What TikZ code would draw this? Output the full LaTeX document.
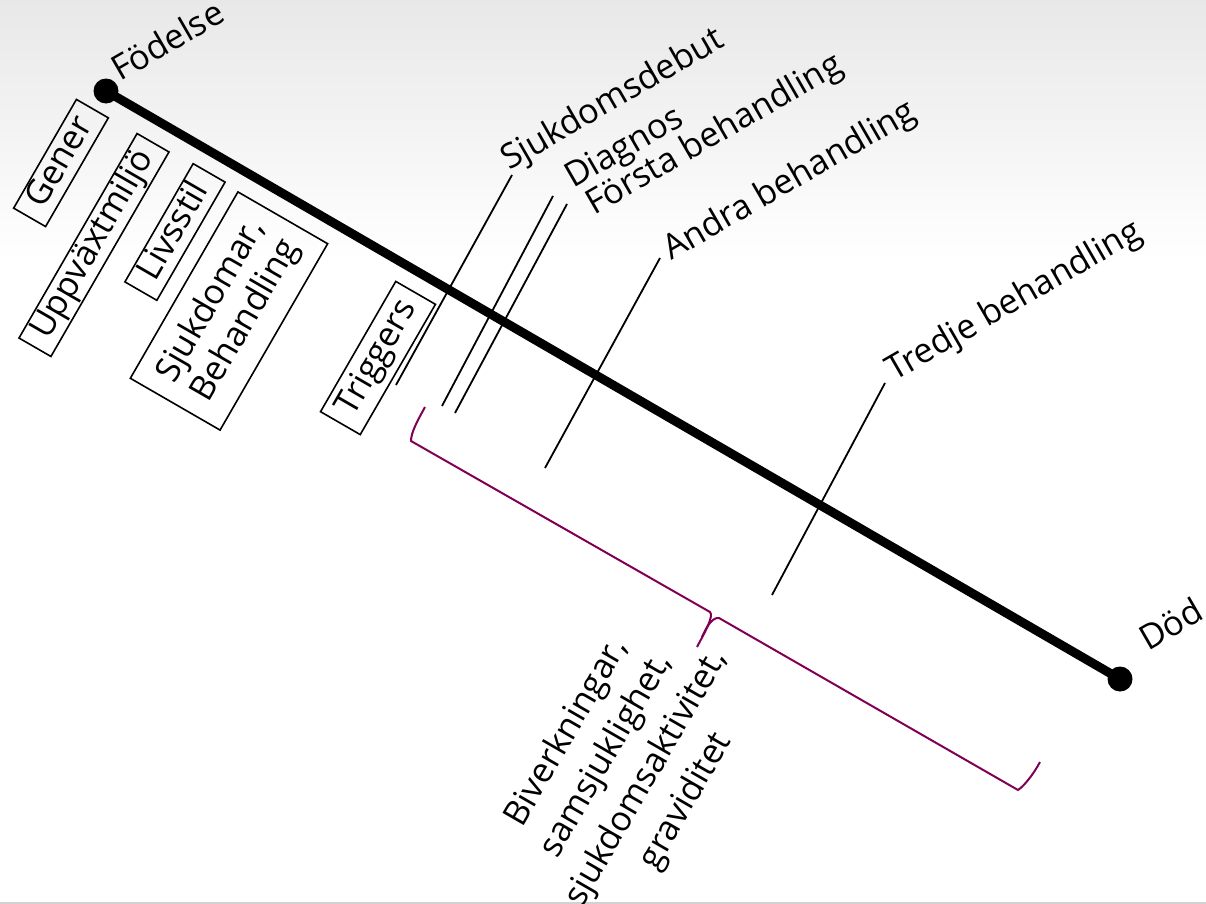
\documentclass[tikz,border=0pt]{standalone}
\usepackage{fontspec}
\setmainfont{Open Sans}
\definecolor{bracecol}{RGB}{128,0,84}
\begin{document}
\begin{tikzpicture}[x=1bp,y=-1bp,
  lbl/.style={font=\fontsize{34.5}{42}\selectfont, rotate=30, anchor=base west, inner sep=0pt},
  fbox/.style={draw, line width=1.6bp, rotate=60, font=\fontsize{34.5}{40}\selectfont, inner sep=0pt, align=center},
  onel/.style={text height=25pt, text depth=8pt},
  tickln/.style={line width=1.8bp},
  dotn/.style={circle, fill=black, inner sep=0pt, minimum size=25bp},
  brc/.style={draw=bracecol, line width=2bp}]
\fill[top color=gray!18, bottom color=white, draw=none] (0,0) rectangle (1206,260);
\useasboundingbox (0,0) rectangle (1206,904);
\draw[gray!35, line width=2bp] (0,903) -- (1206,903);

% timeline
\node[dotn] (b) at (106,91) {};
\node[dotn] (d) at (1120,679) {};
\draw[line width=9bp] (b.center) -- (d.center);

% labels
\node[lbl] (fod) at (120,82) {Födelse};
\node[lbl] (sjd) at (509,171) {Sjukdomsdebut};
\node[lbl] (dia) at (573,189) {Diagnos};
\node[lbl] (fbh) at (594,216) {Första behandling};
\node[lbl] (abh) at (671,261) {Andra behandling};
\node[lbl] (tbh) at (894,382) {Tredje behandling};
\node[lbl] (dod) at (1148,652) {Död};

% ticks
\coordinate (sjdA) at (512,175); \coordinate (sjdB) at (396,385);
\coordinate (diaA) at (553,196); \coordinate (diaB) at (442,406);
\coordinate (fbhA) at (567,204); \coordinate (fbhB) at (455,413);
\coordinate (abhA) at (660,258); \coordinate (abhB) at (545,468);
\coordinate (tbhA) at (885,383); \coordinate (tbhB) at (772,595);
\draw[tickln] (sjdA) -- (sjdB);
\draw[tickln] (diaA) -- (diaB);
\draw[tickln] (fbhA) -- (fbhB);
\draw[tickln] (abhA) -- (abhB);
\draw[tickln] (tbhA) -- (tbhB);

% boxes
\node[fbox, onel, minimum width=126pt, minimum height=37pt] (gen) at (61,163) {Gener};
\node[fbox, onel, minimum width=237pt, minimum height=37pt] (upp) at (94,245) {Uppväxtmiljö};
\node[fbox, onel, minimum width=137pt, minimum height=37pt] (liv) at (175,232) {Livsstil};
\node[fbox, minimum width=216pt, minimum height=104pt] (sjb) at (229,311) {Sjukdomar,\\Behandling};
\node[fbox, onel, minimum width=151pt, minimum height=46pt] (trg) at (378,358) {Triggers};

% brace
\coordinate (br1) at (425,407);
\coordinate (br2) at (411,441);
\coordinate (br3) at (710,612);
\coordinate (brc) at (697,647);
\coordinate (br4) at (719,618);
\coordinate (br5) at (1018,790);
\coordinate (br6) at (1040,762);
\draw[brc] (br1) .. controls (418,420) and (411,432) .. (br2) -- (br3) .. controls (714,616) and (705,632) .. (brc);
\draw[brc] (br6) .. controls (1033,775) and (1024,786) .. (br5) -- (br4) .. controls (712,617) and (706,628) .. (702,637);

\node[font=\fontsize{34.5}{46}\selectfont, rotate=60, align=center, inner sep=0pt] (bt) at (627,767)
  {Biverkningar,\\samsjuklighet,\\sjukdomsaktivitet,\\graviditet};
\end{tikzpicture}
\end{document}
